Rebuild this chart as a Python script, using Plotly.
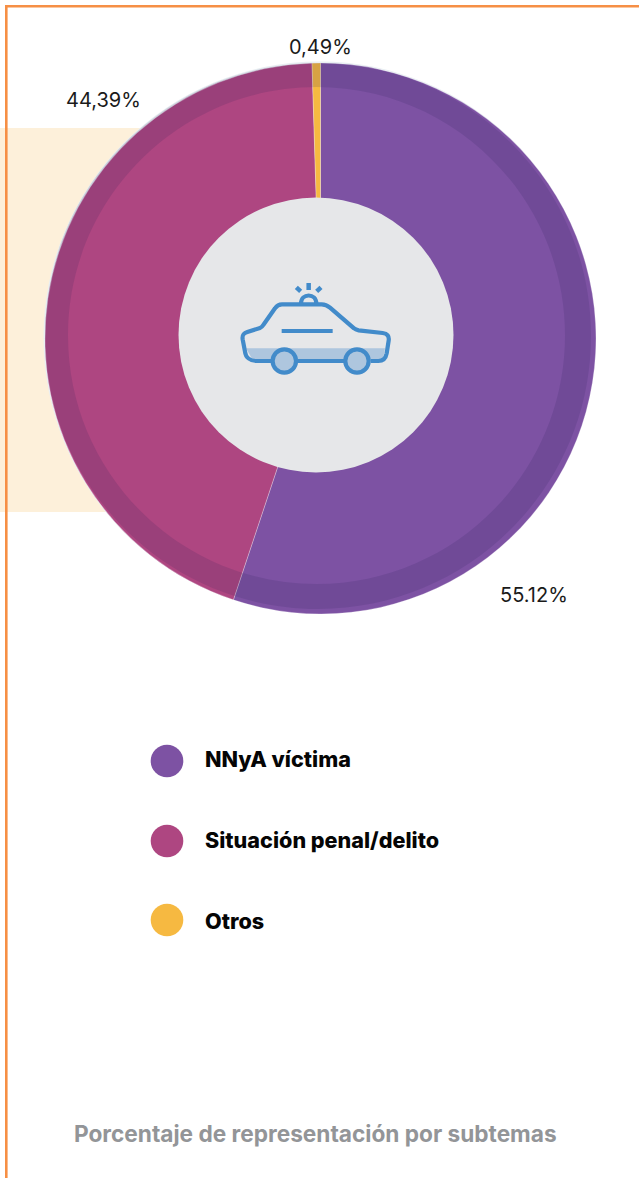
import plotly.graph_objects as go

W, H = 639, 1178

categories = ["NNyA víctima", "Situación penal/delito", "Otros"]
values = [55.12, 44.39, 0.49]
colors = ["#7D52A3", "#AE4681", "#F6B941"]
value_labels = ["55.12%", "44,39%", "0,49%"]
title_text = "Porcentaje de representación por subtemas"


def px(x):
    return x / W


def py(y):
    return 1 - y / H


def circle(cx, cy, r, fill, line=None, lw=0, layer="above"):
    return dict(type="circle", xref="paper", yref="paper",
                x0=px(cx - r), x1=px(cx + r), y0=py(cy + r), y1=py(cy - r),
                fillcolor=fill, line=dict(color=line or "rgba(0,0,0,0)", width=lw), layer=layer)


def rect(x0, y0, x1, y1, fill, layer="below"):
    return dict(type="rect", xref="paper", yref="paper",
                x0=px(x0), x1=px(x1), y0=py(y1), y1=py(y0),
                fillcolor=fill, line=dict(width=0), layer=layer)


BLUE = "#428BCA"


def ip(pts):
    out = []
    for cmd, *c in pts:
        s = cmd
        for i in range(0, len(c), 2):
            s += f" {px(200 + c[i] / 3):.5f} {py(260 + c[i + 1] / 3):.5f}"
        out.append(s)
    return " ".join(out)


def icon_path(pts, fill="rgba(0,0,0,0)", line=BLUE, lw=4.2):
    return dict(type="path", xref="paper", yref="paper", path=ip(pts), fillcolor=fill,
                line=dict(color=line, width=lw), layer="above")


shapes = [
    rect(0, 128, 150, 512, "#FDF0DA"),
    rect(5, 5, 7.6, H, "#F68F45", layer="above"),
    rect(5, 5, W, 7.6, "#F68F45", layer="above"),
    circle(319.5, 337.5, 276, "#E8EEF2", layer="below"),
]

ring_o = (318, 336, 273)
ring_i = (316.5, 335.5, 248.5)
K = 0.5523


def bez_circle(cx, cy, r):
    k = K * r
    return f"M {px(cx + r):.5f} {py(cy):.5f} " + " ".join(
        "C " + " ".join(f"{px(a):.5f} {py(b):.5f}" for a, b in seg)
        for seg in [
            [(cx + r, cy + k), (cx + k, cy + r), (cx, cy + r)],
            [(cx - k, cy + r), (cx - r, cy + k), (cx - r, cy)],
            [(cx - r, cy - k), (cx - k, cy - r), (cx, cy - r)],
            [(cx + k, cy - r), (cx + r, cy - k), (cx + r, cy)],
        ]
    ) + " Z"


shapes.append(dict(type="path", xref="paper", yref="paper",
                   path=bez_circle(*ring_o) + " " + bez_circle(*ring_i),
                   fillcolor="rgba(40,35,90,0.15)", line=dict(width=0), layer="above"))
shapes.append(circle(316, 335, 137.5, "#E6E7E9"))

# car icon
shapes.append(icon_path([("M", 138, 265), ("L", 555, 265), ("L", 548, 303), ("L", 160, 303), ("Z",)],
                        fill="#AEC6DE", line="rgba(0,0,0,0)", lw=0))
shapes.append(icon_path([
    ("M", 215, 303), ("L", 170, 303), ("C", 150, 303, 137, 292, 135, 275), ("L", 128, 238),
    ("C", 126, 225, 130, 220, 142, 216), ("L", 180, 204), ("C", 186, 202, 188, 198, 192, 192),
    ("L", 225, 145), ("C", 231, 136, 236, 133, 246, 133), ("L", 365, 133),
    ("C", 375, 133, 382, 136, 390, 143), ("L", 462, 205), ("C", 466, 209, 470, 210, 476, 211),
    ("L", 548, 219), ("C", 562, 221, 568, 228, 566, 242), ("L", 560, 280),
    ("C", 557, 296, 548, 303, 535, 303), ("L", 512, 303),
]))
shapes.append(icon_path([("M", 293, 303), ("L", 432, 303)]))
shapes.append(icon_path([("M", 245, 213), ("L", 398, 213)]))
shapes.append(icon_path([("M", 303, 132), ("C", 303, 98, 349, 98, 349, 132)]))
shapes.append(icon_path([("M", 289, 82), ("L", 302, 94)], lw=4.5))
shapes.append(icon_path([("M", 326, 69), ("L", 326, 90)], lw=4.5))
shapes.append(icon_path([("M", 363, 82), ("L", 350, 94)], lw=4.5))
shapes.append(circle(200 + 253 / 3, 260 + 303 / 3, 11.7, "#AEC6DE", BLUE, 4.2))
shapes.append(circle(200 + 471 / 3, 260 + 303 / 3, 11.7, "#AEC6DE", BLUE, 4.2))

legend_y = [761, 841, 920]
for c, y in zip(colors, legend_y):
    shapes.append(circle(167, y, 16.3, c))

annotations = []
LABEL_FONT = dict(family="Inter", size=20, color="#1A1A1A")
for txt, (x, y) in zip(value_labels, [(533.5, 595), (103, 100), (320, 47.5)]):
    annotations.append(dict(text=txt, x=px(x), y=py(y), xref="paper", yref="paper", showarrow=False,
                            xanchor="center", yanchor="middle", font=LABEL_FONT))
for cat, y in zip(categories, [759, 840, 921]):
    annotations.append(dict(text=cat, x=px(202.5), y=py(y), xref="paper", yref="paper",
                            showarrow=False, xanchor="left", yanchor="middle",
                            font=dict(family="Inter", size=21.6, weight=800, color="#050505")))
annotations.append(dict(text=title_text, x=px(315), y=py(1133), xref="paper", yref="paper",
                        showarrow=False, xanchor="center", yanchor="middle",
                        font=dict(family="Inter", size=22.65, weight=700, color="#939598")))

cx, cy, r = 320.5, 338.5, 275.5
fig = go.Figure(go.Pie(
    labels=categories, values=values, sort=False, direction="clockwise", rotation=0,
    marker=dict(colors=colors, line=dict(color="rgba(255,255,255,0.45)", width=0.6)),
    textinfo="none", hoverinfo="label+percent", showlegend=False,
    domain=dict(x=[px(cx - r), px(cx + r)], y=[py(cy + r), py(cy - r)]),
))
fig.update_layout(width=W, height=H, margin=dict(l=0, r=0, t=0, b=0),
                  paper_bgcolor="white", plot_bgcolor="white",
                  shapes=shapes, annotations=annotations)
fig.write_html("out.html", config=dict(displayModeBar=False),
               post_script="document.body.style.margin='0';document.documentElement.style.overflow='hidden';")
